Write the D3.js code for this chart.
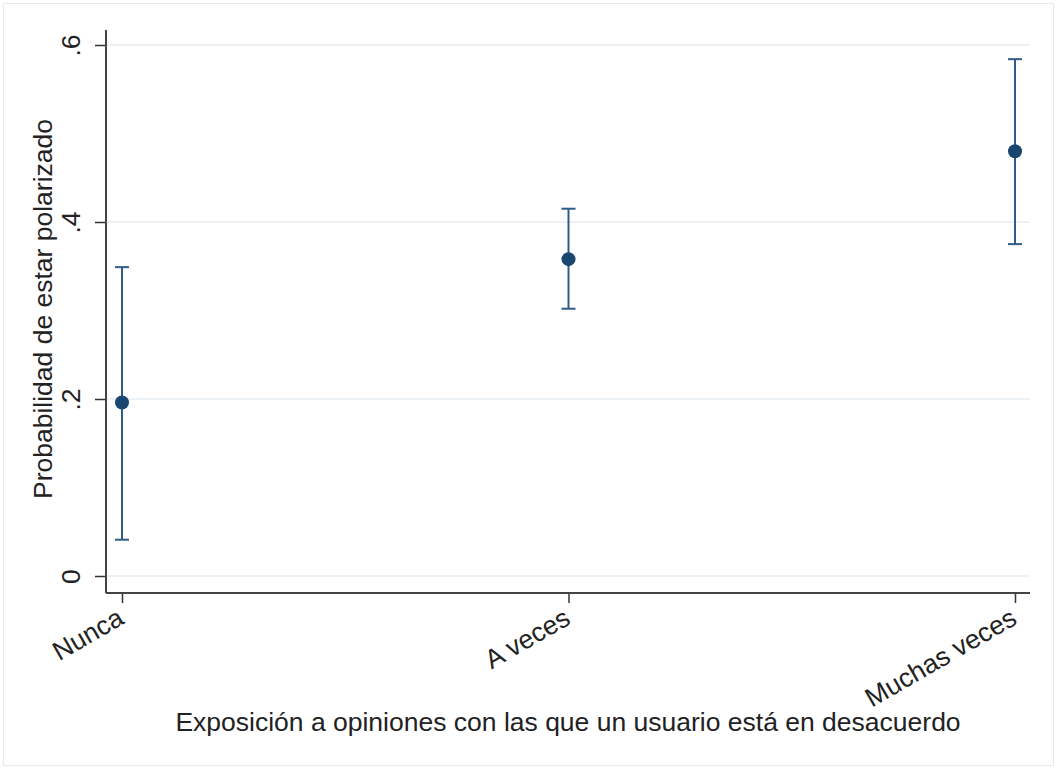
<!DOCTYPE html>
<html>
<head>
<meta charset="utf-8">
<script src="https://cdn.jsdelivr.net/npm/d3@7"></script>
<style>
  body { margin: 0; background: #fff; }
  text { font-family: "Liberation Sans", Arial, sans-serif; fill: #222; }
</style>
</head>
<body>
<svg width="1058" height="769"></svg>
<script>
var categories = ["Nunca", "A veces", "Muchas veces"];
var estimates = [0.196, 0.358, 0.480];
var lower = [0.041, 0.302, 0.375];
var upper = [0.349, 0.415, 0.584];
var yTicks = [0, 0.2, 0.4, 0.6];
var yTickLabels = ["0", ".2", ".4", ".6"];

var svg = d3.select("svg");
var fs = 26.5;

// outer graph region
svg.append("rect")
  .attr("x", 3.5).attr("y", 3.5)
  .attr("width", 1050).attr("height", 762)
  .attr("fill", "#fff")
  .attr("stroke", "#eaeaea");

var x = d3.scalePoint().domain(categories).range([122, 1015]);
var y = d3.scaleLinear().domain([0, 0.6]).range([576, 45]);

var plotLeft = 106, plotRight = 1030, plotTop = 30, plotBottom = 593;

// gridlines
svg.append("g")
  .selectAll("line")
  .data(yTicks)
  .enter()
  .append("line")
  .attr("x1", plotLeft)
  .attr("x2", plotRight)
  .attr("y1", function (d) { return y(d); })
  .attr("y2", function (d) { return y(d); })
  .attr("stroke", "#e4edf1")
  .attr("stroke-width", 1.5);

// y axis
var yAxis = svg.append("g")
  .attr("transform", "translate(" + plotLeft + ",0)")
  .call(d3.axisLeft(y).tickValues(yTicks).tickSize(11)
    .tickFormat(function (d, i) { return yTickLabels[i]; }));
yAxis.select(".domain").remove();
yAxis.selectAll(".tick line").attr("stroke", "#333").attr("stroke-width", 1.5);
yAxis.selectAll(".tick text")
  .attr("font-size", fs)
  .attr("font-family", "Liberation Sans, Arial, sans-serif")
  .attr("fill", "#222")
  .attr("text-anchor", "middle")
  .attr("x", 0).attr("y", 0)
  .attr("dy", null)
  .attr("transform", "translate(-26,0) rotate(-90)");

svg.append("line")
  .attr("x1", plotLeft).attr("x2", plotLeft)
  .attr("y1", plotTop).attr("y2", plotBottom)
  .attr("stroke", "#444").attr("stroke-width", 2);

// x axis
var xAxis = svg.append("g")
  .attr("transform", "translate(0," + plotBottom + ")")
  .call(d3.axisBottom(x).tickSize(10));
xAxis.select(".domain").remove();
xAxis.selectAll(".tick line").attr("stroke", "#333").attr("stroke-width", 1.5);
xAxis.selectAll(".tick text")
  .attr("font-size", fs)
  .attr("font-family", "Liberation Sans, Arial, sans-serif")
  .attr("fill", "#222")
  .attr("text-anchor", "end")
  .attr("x", 0).attr("y", 0).attr("dy", null)
  .attr("transform", "translate(3,30) rotate(-30)");

svg.append("line")
  .attr("x1", plotLeft).attr("x2", plotRight)
  .attr("y1", plotBottom).attr("y2", plotBottom)
  .attr("stroke", "#444").attr("stroke-width", 2);

// error bars
var bars = svg.append("g")
  .selectAll("g")
  .data(categories)
  .enter()
  .append("g");

bars.append("line")
  .attr("x1", function (d) { return x(d); })
  .attr("x2", function (d) { return x(d); })
  .attr("y1", function (d, i) { return y(lower[i]); })
  .attr("y2", function (d, i) { return y(upper[i]); })
  .attr("stroke", "#2f5d87").attr("stroke-width", 2);

bars.append("line")
  .attr("x1", function (d) { return x(d) - 7; })
  .attr("x2", function (d) { return x(d) + 7; })
  .attr("y1", function (d, i) { return y(lower[i]); })
  .attr("y2", function (d, i) { return y(lower[i]); })
  .attr("stroke", "#2f5d87").attr("stroke-width", 2);

bars.append("line")
  .attr("x1", function (d) { return x(d) - 7; })
  .attr("x2", function (d) { return x(d) + 7; })
  .attr("y1", function (d, i) { return y(upper[i]); })
  .attr("y2", function (d, i) { return y(upper[i]); })
  .attr("stroke", "#2f5d87").attr("stroke-width", 2);

bars.append("circle")
  .attr("cx", function (d) { return x(d); })
  .attr("cy", function (d, i) { return y(estimates[i]); })
  .attr("r", 7)
  .attr("fill", "#1a476f");

// axis titles
svg.append("text")
  .attr("transform", "translate(52,309) rotate(-90)")
  .attr("text-anchor", "middle")
  .attr("font-size", fs)
  .text("Probabilidad de estar polarizado");

svg.append("text")
  .attr("x", 568)
  .attr("y", 731)
  .attr("text-anchor", "middle")
  .attr("font-size", fs)
  .text("Exposición a opiniones con las que un usuario está en desacuerdo");
</script>
</body>
</html>
